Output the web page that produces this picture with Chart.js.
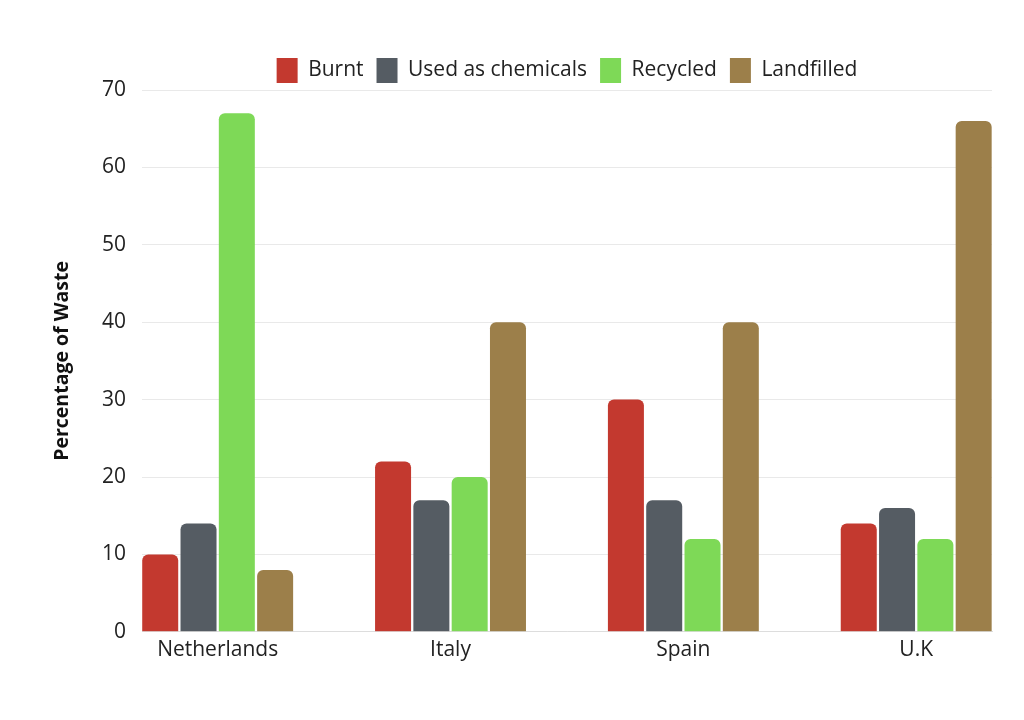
<!DOCTYPE html>
<html>
<head>
<meta charset="utf-8">
<script src="https://cdn.jsdelivr.net/npm/chart.js@4/dist/chart.umd.min.js"></script>
<style>
  html, body { margin: 0; padding: 0; background: #ffffff; overflow: hidden; }
  #wrap { width: 1024px; height: 720px; }
</style>
</head>
<body>
<div id="wrap"><canvas id="c" width="1024" height="720"></canvas></div>
<script>
const categories = ["Netherlands", "Italy", "Spain", "U.K"];
const seriesNames = ["Burnt", "Used as chemicals", "Recycled", "Landfilled"];
const burnt = [10, 22, 30, 14];
const usedAsChemicals = [14, 17, 17, 16];
const recycled = [67, 20, 12, 12];
const landfilled = [8, 40, 40, 66];
const yTicks = [0, 10, 20, 30, 40, 50, 60, 70];
const colors = ["#c3392f", "#555c63", "#7ed957", "#9c7f4a"];

const seriesValues = [burnt, usedAsChemicals, recycled, landfilled];
const datasets = seriesNames.map((name, s) => ({
  label: name,
  data: seriesValues[s].map((v, i) => ({ x: i, y: v })),
  backgroundColor: colors[s],
  borderWidth: 0,
  borderRadius: 6,
  categoryPercentage: 0.658,
  barPercentage: 0.94
}));

const recenterLegend = {
  id: 'recenterLegend',
  afterLayout(chart) {
    const l = chart.legend, ca = chart.chartArea;
    if (l && ca) {
      l.left = ca.left; l.right = ca.right;
      l.top += 3; l.bottom += 3;
    }
  }
};

new Chart(document.getElementById('c'), {
  type: 'bar',
  data: { datasets },
  plugins: [recenterLegend],
  options: {
    responsive: false,
    animation: false,
    layout: { padding: { left: 40, right: 32, top: 42, bottom: 59 } },
    plugins: {
      legend: {
        position: 'top',
        align: 'center',
        labels: {
          boxWidth: 21,
          boxHeight: 25,
          padding: 13,
          color: '#222222',
          font: { family: 'Open Sans', size: 21 }
        }
      },
      tooltip: { enabled: false }
    },
    scales: {
      x: {
        type: 'linear',
        offset: false,
        min: -0.325,
        max: 3.3255,
        grid: { display: false },
        border: { display: true, color: '#dddddd', width: 1 },
        ticks: {
          stepSize: 1,
          includeBounds: false,
          autoSkip: false,
          maxRotation: 0,
          padding: -2,
          color: '#222222',
          font: { family: 'Open Sans', size: 21 },
          callback: (v) => categories[v] !== undefined && Number.isInteger(v) ? categories[v] : ''
        }
      },
      y: {
        min: 0,
        max: 70,
        afterBuildTicks: (s) => { s.ticks = yTicks.map(v => ({ value: v })); },
        afterFit: (s) => { s.width = 102; },
        grid: { color: '#e9e9e9', drawTicks: false },
        border: { display: false },
        ticks: {
          padding: 16,
          color: '#222222',
          font: { family: 'Open Sans', size: 21 }
        },
        title: {
          display: true,
          text: 'Percentage of Waste',
          color: '#111111',
          padding: { top: 11, bottom: 0 },
          font: { family: 'Open Sans', size: 19.5, weight: 'bold' }
        }
      }
    }
  }
});
</script>
</body>
</html>
